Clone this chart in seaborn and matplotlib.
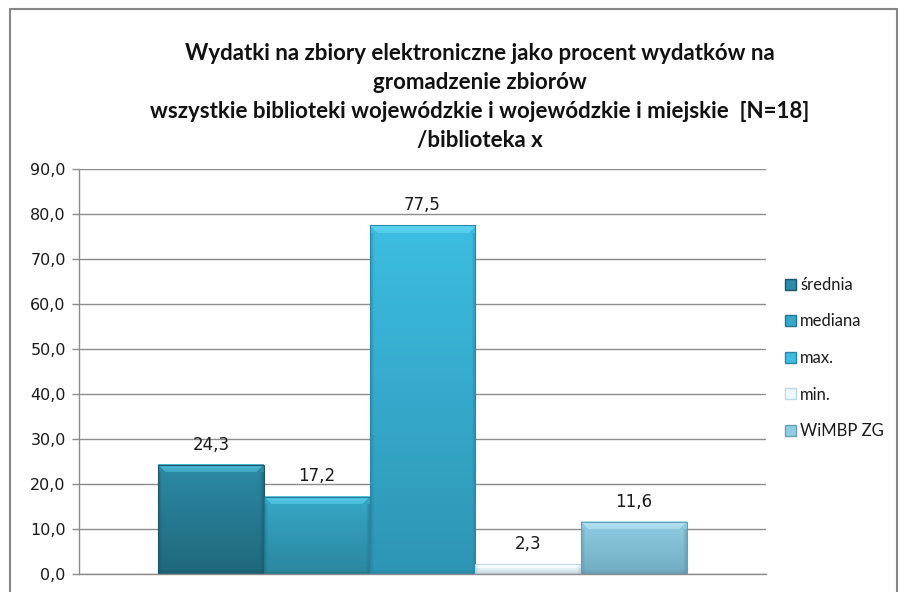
import matplotlib
matplotlib.use("Agg")
import matplotlib.pyplot as plt
import seaborn as sns
import pandas as pd
import numpy as np
from matplotlib.lines import Line2D
from matplotlib.patches import Patch
from matplotlib.colors import to_rgb

series = ["średnia", "mediana", "max.", "min.", "WiMBP ZG"]
values = [24.3, 17.2, 77.5, 2.3, 11.6]
colors = ["#2a8199", "#33a0bf", "#38b2d6", "#e3f1f6", "#88c6dd"]
tops = ["#2c8ba6", "#37a8c8", "#3cbde1", "#eef8fb", "#90cde4"]
bottoms = ["#1f677b", "#2b879f", "#2e95b5", "#d6e9f0", "#72acc1"]
highlights = ["#4db9d6", "#58cbea", "#62d5f2", "#ffffff", "#b6e4f4"]
edges = ["#1b5466", "#237690", "#2a86a5", "#bcd9e3", "#65a0b6"]
yticks = [0, 10, 20, 30, 40, 50, 60, 70, 80, 90]
title = ("Wydatki na zbiory elektroniczne jako procent wydatków na\n"
         "gromadzenie zbiorów\n"
         "wszystkie biblioteki wojewódzkie i wojewódzkie i miejskie  [N=18]\n"
         "/biblioteka x")

sns.set_theme(style="white")
plt.rcParams['font.family'] = ['Lato', 'DejaVu Sans']

df = pd.DataFrame({"cat": [""] * len(series), "series": series, "value": values})

fig = plt.figure(figsize=(9.05, 5.92), dpi=100)
ax = fig.add_axes([79 / 905, 18 / 592, (766 - 79) / 905, (574 - 169) / 592])

sns.barplot(data=df, x="cat", y="value", hue="series", hue_order=series,
            palette=colors, width=0.77, dodge=True, ax=ax, legend=False,
            saturation=1, errorbar=None)

ax.set_ylim(0, 90)
ax.set_xlim(-0.5, 0.5)


def bar_image(top, bottom, hl, wpx, hpx, bevel=8, side=4):
    wpx = max(int(round(wpx)), 2)
    hpx = max(int(round(hpx)), 2)
    t = np.array(to_rgb(top))
    b = np.array(to_rgb(bottom))
    h = np.array(to_rgb(hl))
    ys = np.linspace(0, 1, hpx).reshape(-1, 1, 1)
    img = t * (1 - ys) + b * ys
    img = np.repeat(img, wpx, axis=1)
    bev = min(bevel, max(hpx // 2, 1))
    for r in range(bev):
        f = 0.95 - 0.35 * r / bev
        lo = min(r, wpx // 2)
        hi = wpx - lo
        img[r, lo:hi] = h * f + img[r, lo:hi] * (1 - f)
    dark = b * 0.82
    for c in range(side):
        f = 0.5 * (1 - c / side)
        img[bev:, c] = img[bev:, c] * (1 - f) + dark * f
        img[bev:, wpx - 1 - c] = img[bev:, wpx - 1 - c] * (1 - f) + dark * f
    for r in range(min(4, hpx)):
        f = 0.45 * (1 - r / 4)
        rr = hpx - 1 - r
        img[rr] = img[rr] * (1 - f) + dark * f
    return np.clip(img, 0, 1)


fig.canvas.draw()
for i, cont in enumerate(ax.containers):
    for p in cont:
        p.set_edgecolor(edges[i])
        p.set_linewidth(0.8)
        x0, y0 = p.get_x(), p.get_y()
        w, h = p.get_width(), p.get_height()
        (px0, py0) = ax.transData.transform((x0, y0))
        (px1, py1) = ax.transData.transform((x0 + w, y0 + h))
        img = bar_image(tops[i], bottoms[i], highlights[i], px1 - px0, py1 - py0)
        ax.imshow(img, extent=[x0, x0 + w, y0, y0 + h], origin="upper",
                  aspect="auto", zorder=p.get_zorder() + 0.1, interpolation="nearest")
        p.set_facecolor("none")
        p.set_zorder(p.get_zorder() + 0.2)
    ax.bar_label(cont, labels=[f"{v:.1f}".replace(".", ",") for v in cont.datavalues],
                 padding=8, fontsize=12, color="#1a1a1a", family="DejaVu Sans")

ax.set_ylim(0, 90)
ax.set_xlim(-0.5, 0.5)
ax.set_yticks(yticks)
ax.set_yticklabels([f"{t:.1f}".replace(".", ",") for t in yticks], fontsize=11.5,
                   color="#1a1a1a", family="DejaVu Sans")
ax.set_xticks([])
ax.set_xlabel("")
ax.set_ylabel("")
ax.grid(axis="y", color="#8c8c8c", linewidth=1.0)
ax.set_axisbelow(True)
for s in ["top", "right"]:
    ax.spines[s].set_visible(False)
for s in ["left", "bottom"]:
    ax.spines[s].set_color("#8c8c8c")
    ax.spines[s].set_linewidth(1.0)
ax.tick_params(axis="y", direction="out", length=5, width=1, color="#8c8c8c", pad=4.5, left=True)

fig.text(480 / 905, 1 - 43 / 592, title, ha="center", va="top", fontsize=16,
         fontweight="bold", linespacing=1.47, color="#111111")

handles = [Patch(facecolor=c, edgecolor=e) for c, e in zip(tops, edges)]
leg = fig.legend(handles, series, loc="center left", bbox_to_anchor=(785 / 905, 1 - 358 / 592),
                 frameon=False, fontsize=12, handlelength=0.66, handleheight=0.66,
                 handletextpad=0.25, labelspacing=1.23, borderpad=0, borderaxespad=0)
for t in leg.get_texts():
    t.set_color("#1a1a1a")

bc = "#868686"
fig.add_artist(Line2D([10 / 905, 10 / 905], [0, 1 - 9 / 592], transform=fig.transFigure, color=bc, lw=1.5))
fig.add_artist(Line2D([10 / 905, 897 / 905], [1 - 9 / 592, 1 - 9 / 592], transform=fig.transFigure, color=bc, lw=1.5))
fig.add_artist(Line2D([897 / 905, 897 / 905], [0, 1 - 9 / 592], transform=fig.transFigure, color=bc, lw=1.5))

fig.savefig("out.png", dpi=100, facecolor="white")
